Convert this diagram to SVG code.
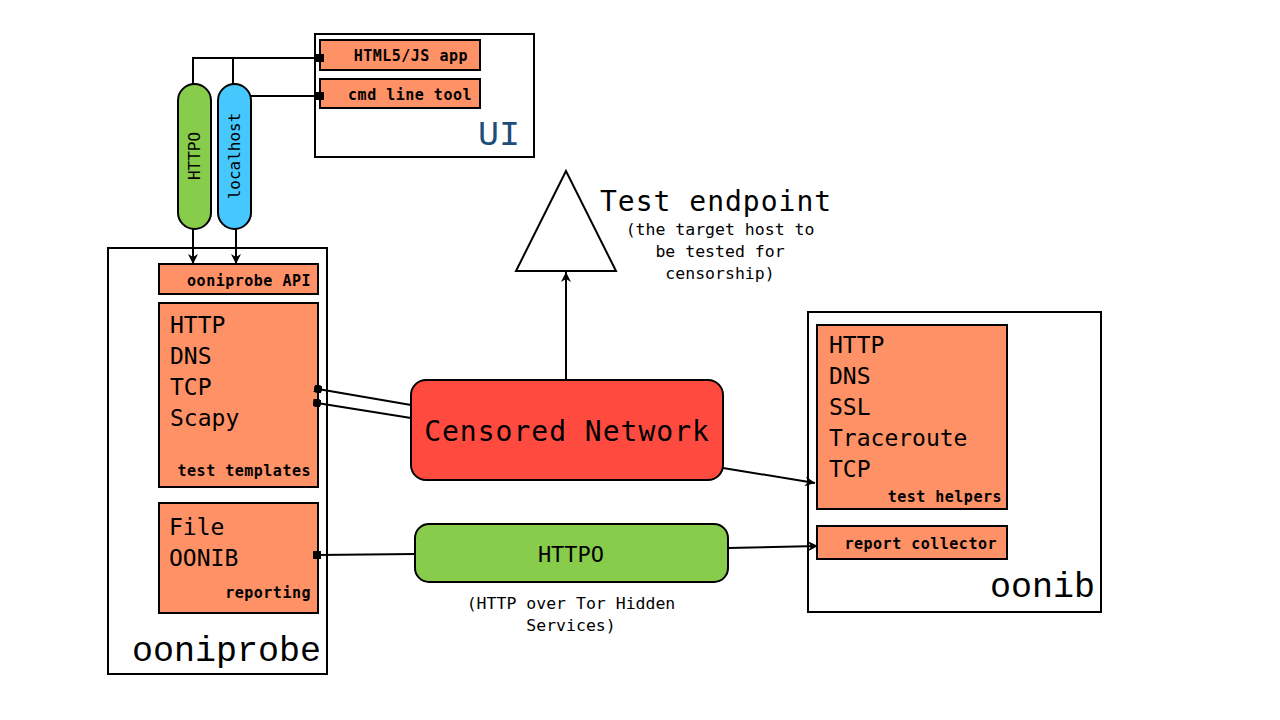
<svg xmlns="http://www.w3.org/2000/svg" width="1280" height="720" viewBox="0 0 1280 720">
<defs>
<style>
.box{fill:#fff;stroke:#000;stroke-width:2}
.org{fill:#fe9166;stroke:#000;stroke-width:2}
.ln{fill:none;stroke:#000;stroke-width:2}
.mono{font-family:"DejaVu Sans Mono","Liberation Mono",monospace;fill:#000}
.big{font-size:23px}
.lbl{font-size:15px;font-weight:bold;text-anchor:end;letter-spacing:0.5px}
.title{font-family:"Liberation Mono","DejaVu Sans Mono",monospace;font-size:35px;text-anchor:end}
.sub{font-size:16.5px;text-anchor:middle}
</style>
<marker id="arr" viewBox="0 0 10 10" refX="10" refY="5" markerWidth="5" markerHeight="5" orient="auto">
<path d="M0,0 L10,5 L0,10 L3,5 z" fill="#000"/>
</marker>
<marker id="sq" viewBox="0 0 10 10" refX="5" refY="5" markerWidth="4" markerHeight="4" orient="auto">
<rect x="0" y="0" width="10" height="10" fill="#000"/>
</marker>
</defs>
<rect width="1280" height="720" fill="#fff"/>

<g id="ui">
<rect class="box" x="315" y="34" width="219" height="123"/>
<text class="title" x="520" y="145" style="fill:#1f4e79">UI</text>
</g>
<g id="ooniprobe">
<rect class="box" x="108" y="248" width="219" height="426"/>
<text class="title" x="321" y="661">ooniprobe</text>
</g>
<g id="oonib">
<rect class="box" x="808" y="312" width="293" height="300"/>
<text class="title" x="1095" y="597">oonib</text>
</g>

<g id="html5app">
<rect class="org" x="320" y="40" width="160" height="30"/>
<text class="mono lbl" x="468" y="61">HTML5/JS app</text>
</g>
<g id="cmdline">
<rect class="org" x="320" y="79" width="160" height="29"/>
<text class="mono lbl" x="472" y="100">cmd line tool</text>
</g>

<g id="httpo-pill">
<rect x="178" y="84" width="33" height="145" rx="16.5" fill="#88cc4c" stroke="#000" stroke-width="2"/>
<text class="mono" font-size="16" text-anchor="middle" transform="translate(200,156) rotate(-90)">HTTPO</text>
</g>
<g id="localhost-pill">
<rect x="218" y="84" width="33" height="145" rx="16.5" fill="#46c8ff" stroke="#000" stroke-width="2"/>
<text class="mono" font-size="16" text-anchor="middle" transform="translate(240,156) rotate(-90)">localhost</text>
</g>

<g id="ooniprobe-api">
<rect class="org" x="159" y="264" width="159" height="30"/>
<text class="mono lbl" x="311" y="286">ooniprobe API</text>
</g>
<g id="test-templates">
<rect class="org" x="159" y="303" width="159" height="184"/>
<text class="mono big" x="170" y="333">HTTP</text>
<text class="mono big" x="170" y="364">DNS</text>
<text class="mono big" x="170" y="395">TCP</text>
<text class="mono big" x="170" y="426">Scapy</text>
<text class="mono lbl" x="311" y="476">test templates</text>
</g>
<g id="reporting">
<rect class="org" x="159" y="503" width="159" height="110"/>
<text class="mono big" x="169" y="535">File</text>
<text class="mono big" x="169" y="566">OONIB</text>
<text class="mono lbl" x="311" y="598">reporting</text>
</g>

<g id="test-endpoint">
<polygon points="566,171 516,271 616,271" fill="#fff" stroke="#000" stroke-width="2"/>
<text class="mono" x="600" y="211" font-size="28" letter-spacing="1">Test endpoint</text>
<text class="mono sub" x="720" y="235">(the target host to</text>
<text class="mono sub" x="720" y="257">be tested for</text>
<text class="mono sub" x="720" y="279">censorship)</text>
</g>

<g id="censored-network">
<rect x="411" y="380" width="312" height="100" rx="15" fill="#ff4a40" stroke="#000" stroke-width="2"/>
<text class="mono" x="567" y="441" font-size="28" letter-spacing="1" text-anchor="middle">Censored Network</text>
</g>

<g id="httpo">
<rect x="415" y="524" width="313" height="58" rx="14" fill="#88cc4c" stroke="#000" stroke-width="2"/>
<text class="mono" x="571" y="562" font-size="22" text-anchor="middle">HTTPO</text>
<text class="mono sub" x="571" y="609">(HTTP over Tor Hidden</text>
<text class="mono sub" x="571" y="631">Services)</text>
</g>

<g id="test-helpers">
<rect class="org" x="817" y="325" width="190" height="184"/>
<text class="mono big" x="829" y="353">HTTP</text>
<text class="mono big" x="829" y="384">DNS</text>
<text class="mono big" x="829" y="415">SSL</text>
<text class="mono big" x="829" y="446">Traceroute</text>
<text class="mono big" x="829" y="477">TCP</text>
<text class="mono lbl" x="1002" y="502">test helpers</text>
</g>
<g id="report-collector">
<rect class="org" x="817" y="526" width="190" height="33"/>
<text class="mono lbl" x="997" y="549">report collector</text>
</g>

<g id="connectors">
<path class="ln" d="M193,84 V58 H320" marker-end="url(#sq)"/>
<path class="ln" d="M233,84 V58"/>
<path class="ln" d="M251,96 H320" marker-end="url(#sq)"/>
<path class="ln" d="M193,229 V264" marker-end="url(#arr)"/>
<path class="ln" d="M236,229 V264" marker-end="url(#arr)"/>
<path class="ln" d="M566,380 V272" marker-end="url(#arr)"/>
<path class="ln" d="M411,405 L318,389" marker-end="url(#sq)"/>
<path class="ln" d="M411,418 L317,403" marker-end="url(#sq)"/>
<path class="ln" d="M723,468 L815,483" marker-end="url(#arr)"/>
<path class="ln" d="M415,554 L317,555" marker-end="url(#sq)"/>
<path class="ln" d="M728,548 L818,546" marker-end="url(#arr)"/>
</g>
</svg>
